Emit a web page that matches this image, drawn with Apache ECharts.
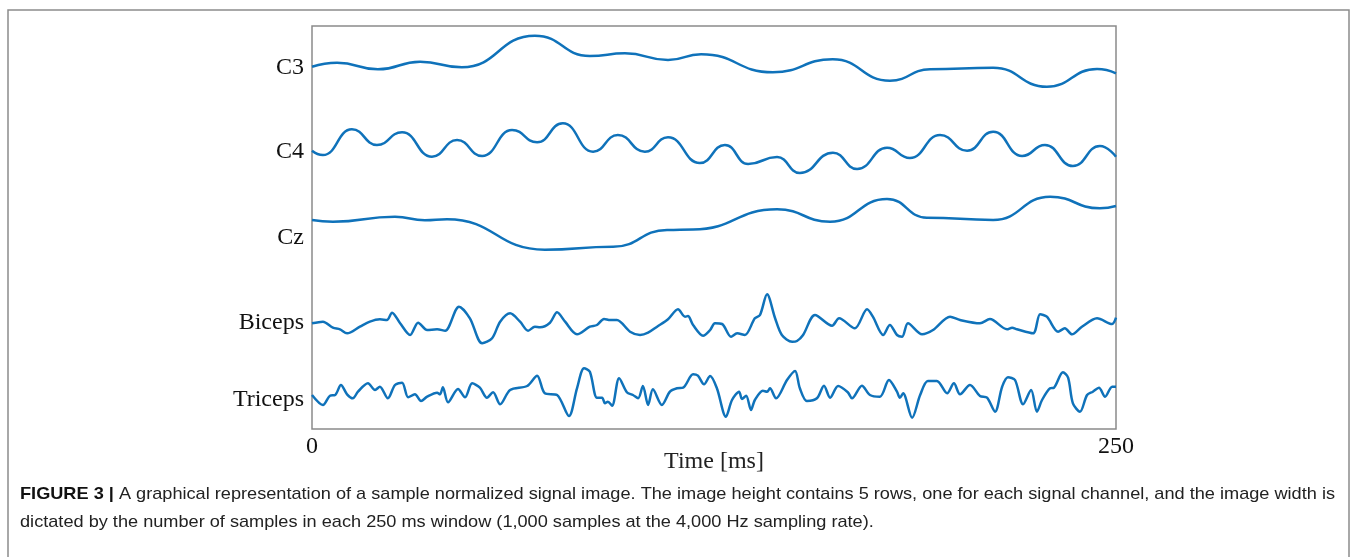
<!DOCTYPE html>
<html>
<head>
<meta charset="utf-8">
<script src="https://cdn.jsdelivr.net/npm/echarts@6/dist/echarts.min.js"></script>
<style>
html,body{margin:0;padding:0;background:#fff;}
#chart{width:1358px;height:557px;}
</style>
</head>
<body>
<div id="chart"></div>
<script>
// ---- data (time in ms, amplitude relative to channel baseline, arbitrary units) ----
const channels = ['C3', 'C4', 'Cz', 'Biceps', 'Triceps'];
const baselines = [361, 277, 191, 106, 29];
const xTicks = [0, 250];

const c3T = [0, 7.8, 20.5, 33.6, 46.6, 69.3, 86.4, 97.3, 110.7, 121.0, 143.3, 161.9, 179.7, 192.2, 211.8, 228.5, 244.1, 250];
const c3V = [1.3, 5.3, -1.3, 6.3, 0.7, 32.3, 12, 14.7, 8, 13.8, -4.3, 8.7, -12.7, -1.3, 0.3, -18.7, -1, -5.3];

const c4T = [0, 3.4, 12.4, 20.2, 28.0, 37.3, 45.1, 52.9, 62.2, 70.0, 78.0, 87.4, 95.1, 103.5, 110.7, 120.6, 128.4, 135.6, 144.6, 151.7, 162.0, 169.5, 178.8, 185.9, 195.3, 203.7, 211.8, 220.8, 227.9, 236.6, 245.0, 250];
const c4V = [1.3, -3, 22.7, 7, 19.7, -4.7, 12, -4, 22, 9.7, 28.7, 0.3, 17, 0.3, 14.7, -11, 7, -12, -5, -21, -0.7, -17, 4.3, -6, 17, 1.3, 20.3, -4, 7, -14, 6, -4.7];

const czT = [0, 6.5, 25.8, 35.1, 42.0, 72.4, 93.6, 110.4, 118.5, 144.6, 161.1, 178.8, 191.2, 211.8, 229.5, 245.0, 250];
const czV = [18, 16.3, 21.3, 17.7, 18.7, -11.7, -8.7, 8, 8.6, 28.7, 16.3, 39, 20.3, 18, 41.3, 29.7, 32];

const bicT = [0, 3.4, 6.5, 8.7, 10.9, 14.9, 18.0, 21.1, 23.3, 24.9, 27.4, 30.5, 33.0, 35.8, 38.9, 41.4, 45.7, 49.1, 52.9, 56.0, 58.5, 61.6, 64.7, 67.2, 69.3, 70.9, 74.0, 76.2, 78.7, 82.4, 86.4, 88.6, 90.8, 92.7, 94.8, 98.9, 102.0, 104.5, 107.3, 110.7, 113.8, 116.0, 116.9, 118.5, 121.6, 123.8, 125.3, 127.5, 130.3, 132.2, 134.6, 137.7, 139.3, 141.5, 144.0, 146.1, 149.3, 150.8, 152.7, 156.4, 161.7, 163.9, 168.8, 172.6, 174.4, 177.6, 179.7, 181.9, 183.5, 185.3, 189.7, 193.1, 198.4, 201.5, 207.7, 210.8, 216.1, 217.7, 219.2, 224.2, 226.4, 228.5, 232.0, 234.1, 236.3, 239.4, 244.1, 248.8, 250];
const bicV = [-0.3, 1.3, -4.7, -6.3, -10.3, -3.7, 1.3, 3.7, 3, 10.3, -0.3, -12, 0.3, -7, -6.3, -7.7, 16.3, 4.7, -20.3, -15.3, 1.3, 9.7, 1.3, -7.7, -3.7, -4.3, 0.3, 10.7, 1.3, -11.3, -3.7, -2, 4, 3, 3, -8.7, -12, -9.7, -3.7, 3.7, 13.7, 6.3, 7, -2, -12.7, -7, -0.3, -1, -13.7, -10.3, -12, 4.7, 8, 28.7, 4.7, -12, -18.7, -18, -12, 8, -2.7, 4.7, -5.3, 13.7, 6.3, -12, -2, -12, -13.7, -0.3, -11.3, -7, 6.3, 3, -0.3, 4, -6.3, -4.7, -6.3, -10.3, 8.7, 6.3, -8.7, -5.3, -11.3, -3.7, 4.7, -1, 5.3];

const triT = [0, 3.4, 5.6, 7.2, 9.0, 10.9, 12.7, 14.3, 17.4, 19.6, 21.1, 23.6, 25.8, 28.0, 29.9, 32.0, 33.9, 35.8, 38.9, 39.8, 40.7, 42.3, 45.4, 47.6, 49.8, 52.2, 54.4, 56.3, 58.5, 61.6, 66.9, 70.0, 72.4, 76.2, 79.9, 82.4, 84.6, 86.4, 88.6, 90.2, 91.1, 92.0, 93.3, 95.5, 97.9, 99.8, 101.4, 102.9, 104.5, 106.0, 108.8, 111.3, 113.5, 115.4, 118.5, 120.0, 121.9, 123.8, 125.9, 128.7, 130.6, 132.8, 133.7, 135.0, 136.5, 137.7, 140.2, 141.5, 142.4, 144.3, 147.7, 150.2, 151.7, 153.9, 157.0, 159.2, 161.1, 163.6, 166.6, 167.9, 171.0, 173.5, 176.6, 179.4, 181.9, 182.8, 183.8, 186.6, 189.1, 191.5, 194.3, 197.5, 199.6, 201.5, 204.6, 207.7, 209.9, 212.4, 214.6, 216.4, 218.6, 221.1, 223.6, 225.4, 227.0, 229.5, 230.7, 233.5, 235.1, 236.6, 238.8, 241.0, 242.8, 244.7, 246.6, 248.8, 250];
const triV = [5, -5, 4.3, 5, 15, 5.7, 1.7, 8.3, 16.7, 10, 13.3, 1.7, 15, 17.3, 2.7, 5.7, -1, 3.3, 7.3, 5.7, 12.7, -2.3, 11, 2.7, 16.7, 12.3, 2.3, 7.7, -4.3, 10, 14, 24.3, 6.7, 5, -16, 11.7, 31.7, 28.3, 2.3, 2.3, -3.3, -1.7, -5.7, 21.7, 7.7, 5, 1.7, 14, -5, 10.7, -5, 8.3, 11.7, 12.3, 25.7, 24.3, 15.7, 24, 11.7, -16.7, 0, 8.3, 1, 4.3, -10, 0, 9.3, 8.3, 11.7, 1.7, 20, 29, 11.7, -1, 1.7, 14.3, 2.3, 14, 7.7, 1.7, 14.3, 5, 3.3, 20, 8.3, 2.3, 6.7, -17.7, 5, 19, 19, 6.7, 16.7, 5.7, 15, 4, 2.3, -11.7, 13.3, 22.7, 20, -4.3, 10, -11.7, 0, 11.7, 12.3, 27.7, 22.3, -3.3, -11.7, 5, 8.3, 12.3, 3.3, 13.3, 13.3];

const captionBold = 'FIGURE 3 |';
const captionLine1 = ' A graphical representation of a sample normalized signal image. The image height contains 5 rows, one for each signal channel, and the image width is';
const captionLine2 = 'dictated by the number of samples in each 250 ms window (1,000 samples at the 4,000 Hz sampling rate).';

// ---- chart ----
const traces = [[c3T, c3V], [c4T, c4V], [czT, czV], [bicT, bicV], [triT, triV]];
const SERIF = '"Liberation Serif", "Times New Roman", serif';
const SANS = '"Liberation Sans", Arial, sans-serif';
const LINE = '#0f72ba';

// horizontal compression for the caption (condensed face look)
const mctx = document.createElement('canvas').getContext('2d');
mctx.font = 'bold 17px ' + SANS;
const wb = mctx.measureText(captionBold).width;
mctx.font = '17px ' + SANS;
const wl = mctx.measureText(captionLine1).width;
const capScale = 1315 / (wb + wl);

const chart = echarts.init(document.getElementById('chart'), null, {renderer: 'canvas'});
const option = {
  animation: false,
  backgroundColor: '#fff',
  grid: {left: 312, top: 26, width: 804, height: 403, show: true, borderColor: '#8a8a8a', borderWidth: 1.5, backgroundColor: 'transparent'},
  xAxis: {
    type: 'value', min: 0, max: 250,
    axisLine: {show: false}, axisTick: {show: false}, splitLine: {show: false},
    axisLabel: {customValues: xTicks, fontFamily: SERIF, fontSize: 24, color: '#111', margin: 6},
    name: 'Time [ms]', nameLocation: 'middle', nameGap: 21, nameMoveOverlap: false,
    nameTextStyle: {fontFamily: SERIF, fontSize: 24, color: '#222'}
  },
  yAxis: {
    type: 'value', min: 0, max: 403,
    axisLine: {show: false}, axisTick: {show: false}, splitLine: {show: false},
    axisLabel: {
      customValues: baselines,
      formatter: v => channels[baselines.indexOf(v)] || '',
      fontFamily: SERIF, fontSize: 24, color: '#111', margin: 8, padding: [4, 0, 0, 0]
    }
  },
  series: traces.map((tr, k) => ({
    type: 'line', name: channels[k],
    data: tr[0].map((t, i) => [t, baselines[k] + tr[1][i]]),
    showSymbol: false,
    smooth: k < 3 ? 0.5 : 0.3,
    smoothMonotone: k < 3 ? 'x' : undefined,
    lineStyle: {color: LINE, width: 2.5},
    clip: false
  })),
  graphic: [
    {type: 'rect', shape: {x: 8, y: 10, width: 1341, height: 570}, style: {fill: 'none', stroke: '#8c8c8c', lineWidth: 1.5}, silent: true},
    {type: 'text', x: 20, y: 494, scaleX: capScale, originX: 0,
     style: {text: '{b|' + captionBold + '}' + captionLine1, font: '17px ' + SANS, fill: '#222', verticalAlign: 'middle',
       rich: {b: {fontWeight: 'bold', fontSize: 17, fontFamily: SANS, fill: '#111'}}}},
    {type: 'text', x: 20, y: 522, scaleX: capScale, originX: 0,
     style: {text: captionLine2, font: '17px ' + SANS, fill: '#222', verticalAlign: 'middle'}}
  ]
};
chart.setOption(option);
</script>
</body>
</html>
